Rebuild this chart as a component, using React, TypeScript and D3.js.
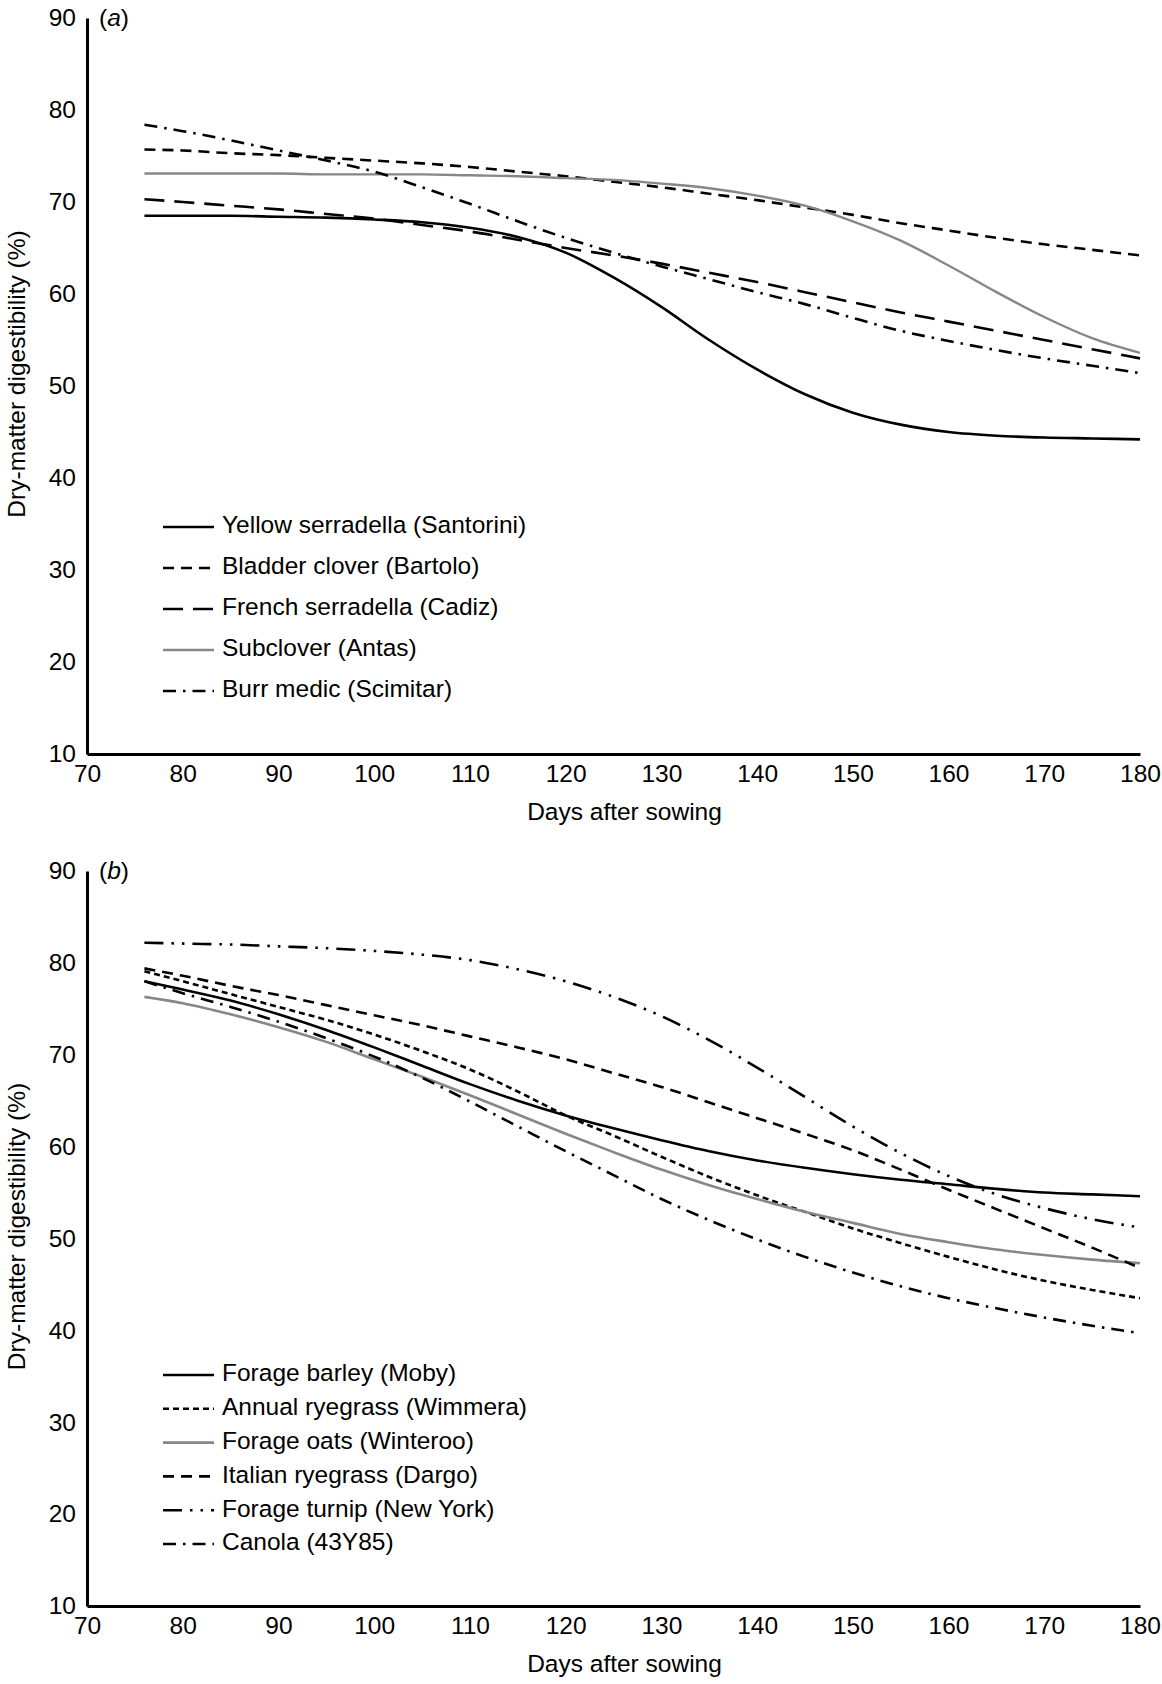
import React, { useEffect, useRef } from 'react';
import * as d3 from 'd3';

// ---------- data ----------
const days = [76, 80, 85, 90, 95, 100, 105, 110, 115, 120, 125, 130, 135, 140, 145, 150, 155, 160, 165, 170, 175, 180];

// Panel (a)
const yellowSerradella = [68.5, 68.5, 68.5, 68.4, 68.3, 68.1, 67.8, 67.2, 66.2, 64.5, 61.8, 58.6, 55.0, 51.8, 49.1, 47.1, 45.8, 45.0, 44.6, 44.4, 44.3, 44.2];
const bladderClover = [75.7, 75.6, 75.3, 75.1, 74.8, 74.5, 74.2, 73.8, 73.3, 72.8, 72.2, 71.6, 70.9, 70.2, 69.4, 68.6, 67.7, 66.9, 66.1, 65.4, 64.8, 64.2];
const frenchSerradella = [70.3, 70.0, 69.6, 69.2, 68.7, 68.2, 67.5, 66.8, 65.9, 65.0, 64.2, 63.3, 62.3, 61.3, 60.2, 59.1, 58.0, 57.0, 56.0, 55.0, 54.0, 53.0];
const subclover = [73.1, 73.1, 73.1, 73.1, 73.0, 73.0, 73.0, 72.9, 72.8, 72.6, 72.4, 72.0, 71.5, 70.7, 69.6, 67.9, 65.8, 63.1, 60.2, 57.5, 55.2, 53.6];
const burrMedic = [78.4, 77.7, 76.7, 75.6, 74.5, 73.3, 71.6, 69.8, 67.9, 66.1, 64.5, 63.0, 61.6, 60.2, 58.9, 57.4, 56.0, 54.9, 53.9, 53.0, 52.2, 51.4];

// Panel (b)
const forageBarley = [78.0, 77.1, 75.9, 74.4, 72.7, 70.8, 68.8, 66.8, 65.0, 63.4, 62.0, 60.7, 59.5, 58.5, 57.7, 57.0, 56.4, 55.9, 55.4, 55.0, 54.8, 54.6];
const annualRyegrass = [79.1, 78.0, 76.6, 75.2, 73.8, 72.2, 70.4, 68.4, 66.0, 63.4, 61.2, 58.9, 56.7, 54.7, 52.9, 51.1, 49.5, 48.0, 46.6, 45.4, 44.4, 43.5];
const forageOats = [76.3, 75.6, 74.4, 73.0, 71.4, 69.5, 67.6, 65.6, 63.5, 61.4, 59.4, 57.5, 55.8, 54.3, 52.9, 51.7, 50.5, 49.6, 48.8, 48.2, 47.7, 47.3];
const italianRyegrass = [79.4, 78.6, 77.5, 76.5, 75.4, 74.3, 73.2, 72.0, 70.8, 69.5, 68.0, 66.5, 64.8, 63.1, 61.4, 59.6, 57.5, 55.3, 53.2, 51.1, 49.0, 46.8];
const forageTurnip = [82.2, 82.1, 82.0, 81.8, 81.6, 81.3, 80.9, 80.3, 79.3, 78.0, 76.3, 74.2, 71.6, 68.6, 65.4, 62.2, 59.3, 56.8, 54.8, 53.3, 52.1, 51.2];
const canola = [78.0, 76.7, 75.2, 73.6, 71.8, 69.8, 67.5, 64.9, 62.2, 59.5, 56.9, 54.3, 52.0, 49.9, 48.0, 46.3, 44.8, 43.5, 42.4, 41.4, 40.5, 39.7];

const xTicks = [70, 80, 90, 100, 110, 120, 130, 140, 150, 160, 170, 180];
const yTicks = [10, 20, 30, 40, 50, 60, 70, 80, 90];

const namesA = ['Yellow serradella (Santorini)', 'Bladder clover (Bartolo)', 'French serradella (Cadiz)', 'Subclover (Antas)', 'Burr medic (Scimitar)'];
const namesB = ['Forage barley (Moby)', 'Annual ryegrass (Wimmera)', 'Forage oats (Winteroo)', 'Italian ryegrass (Dargo)', 'Forage turnip (New York)', 'Canola (43Y85)'];

// ---------- styles ----------
const BLACK = '#000000';
const GREY = '#878787';
const FONT = "'Liberation Sans', Arial, Helvetica, sans-serif";
const FS = 24.5;

type Series = { name: string; values: number[]; color: string; dash: string | null; width: number };

const seriesA: Series[] = [
  { name: namesA[0], values: yellowSerradella, color: BLACK, dash: null, width: 2.6 },
  { name: namesA[1], values: bladderClover, color: BLACK, dash: '11,7', width: 2.6 },
  { name: namesA[2], values: frenchSerradella, color: BLACK, dash: '20,10', width: 2.6 },
  { name: namesA[3], values: subclover, color: GREY, dash: null, width: 2.4 },
  { name: namesA[4], values: burrMedic, color: BLACK, dash: '13,7,2.5,7', width: 2.6 },
];

const seriesB: Series[] = [
  { name: namesB[0], values: forageBarley, color: BLACK, dash: null, width: 2.6 },
  { name: namesB[1], values: annualRyegrass, color: BLACK, dash: '6,4', width: 2.6 },
  { name: namesB[2], values: forageOats, color: GREY, dash: null, width: 2.6 },
  { name: namesB[3], values: italianRyegrass, color: BLACK, dash: '11,7', width: 2.6 },
  { name: namesB[4], values: forageTurnip, color: BLACK, dash: '19,8,2.5,8,2.5,8', width: 2.6 },
  { name: namesB[5], values: canola, color: BLACK, dash: '13,7,2.5,7', width: 2.6 },
];

const W = 1162;
const H = 1684;
const LEFT = 87;
const RIGHT = 1140;

type PanelCfg = { top: number; bottom: number; label: string; series: Series[]; legendY: number; legendStep: number };

const panels: PanelCfg[] = [
  { top: 18, bottom: 754, label: 'a', series: seriesA, legendY: 527, legendStep: 41 },
  { top: 871, bottom: 1606, label: 'b', series: seriesB, legendY: 1375, legendStep: 33.8 },
];

function drawPanel(svg: d3.Selection<SVGSVGElement, unknown, null, undefined>, p: PanelCfg) {
  const x = d3.scaleLinear().domain([70, 180]).range([LEFT, RIGHT]);
  const y = d3.scaleLinear().domain([10, 90]).range([p.bottom, p.top]);
  const g = svg.append('g');

  // axes
  const xAxis = d3.axisBottom(x).tickValues(xTicks).tickSize(0).tickSizeOuter(0).tickPadding(11).tickFormat(d3.format('d'));
  const gx = g.append('g').attr('transform', `translate(0,${p.bottom})`).call(xAxis);
  gx.select('.domain').attr('stroke', BLACK).attr('stroke-width', 3);
  gx.selectAll('text').attr('font-family', FONT).attr('font-size', FS).attr('fill', BLACK);

  const yAxis = d3.axisLeft(y).tickValues(yTicks).tickSize(0).tickSizeOuter(0).tickPadding(11).tickFormat(d3.format('d'));
  const gy = g.append('g').attr('transform', `translate(${LEFT},0)`).call(yAxis);
  gy.select('.domain').attr('stroke', BLACK).attr('stroke-width', 3);
  gy.selectAll('text').attr('font-family', FONT).attr('font-size', FS).attr('fill', BLACK);

  // titles
  g.append('text')
    .attr('x', (LEFT + RIGHT) / 2 + 11)
    .attr('y', p.bottom + 60)
    .attr('text-anchor', 'middle')
    .attr('dominant-baseline', 'middle')
    .attr('font-family', FONT)
    .attr('font-size', FS)
    .text('Days after sowing');

  const cy = (p.top + p.bottom) / 2 - 12;
  g.append('text')
    .attr('transform', `translate(19,${cy}) rotate(-90)`)
    .attr('text-anchor', 'middle')
    .attr('dominant-baseline', 'middle')
    .attr('font-family', FONT)
    .attr('font-size', FS)
    .text('Dry-matter digestibility (%)');

  const lab = g.append('text')
    .attr('x', 99)
    .attr('y', p.top + 2)
    .attr('dominant-baseline', 'middle')
    .attr('font-family', FONT)
    .attr('font-size', FS);
  lab.append('tspan').text('(');
  lab.append('tspan').attr('font-style', 'italic').text(p.label);
  lab.append('tspan').text(')');

  // lines
  const line = d3
    .line<number>()
    .x((_, i) => x(days[i]))
    .y((v) => y(v))
    .curve(d3.curveMonotoneX);

  p.series.forEach((s) => {
    g.append('path')
      .attr('d', line(s.values) as string)
      .attr('fill', 'none')
      .attr('stroke', s.color)
      .attr('stroke-width', s.width)
      .attr('stroke-dasharray', s.dash ?? null);
  });

  // legend
  p.series.forEach((s, i) => {
    const ly = p.legendY + i * p.legendStep;
    g.append('line')
      .attr('x1', 163)
      .attr('x2', 214)
      .attr('y1', ly)
      .attr('y2', ly)
      .attr('stroke', s.color)
      .attr('stroke-width', s.width)
      .attr('stroke-dasharray', s.dash ?? null);
    g.append('text')
      .attr('x', 222)
      .attr('y', ly)
      .attr('dominant-baseline', 'middle')
      .attr('font-family', FONT)
      .attr('font-size', FS)
      .text(s.name);
  });
}

export default function App() {
  const ref = useRef<SVGSVGElement | null>(null);
  useEffect(() => {
    if (!ref.current) return;
    const svg = d3.select(ref.current);
    svg.selectAll('*').remove();
    panels.forEach((p) => drawPanel(svg, p));
  }, []);
  return (
    <svg
      ref={ref}
      width={W}
      height={H}
      viewBox={`0 0 ${W} ${H}`}
      style={{ position: 'absolute', left: 0, top: 0, background: '#ffffff', display: 'block' }}
    />
  );
}
